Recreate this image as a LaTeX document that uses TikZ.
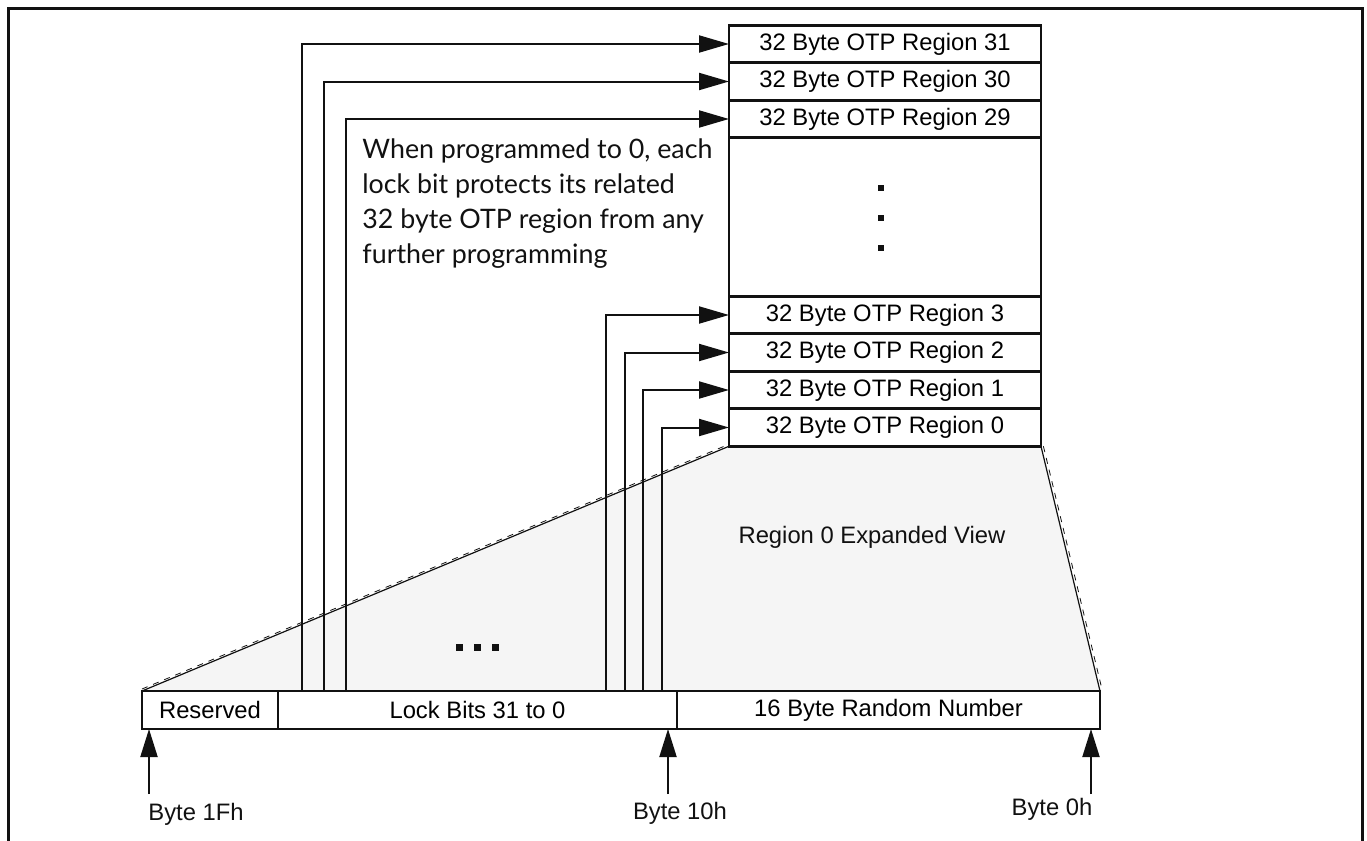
\documentclass[tikz,border=0pt]{standalone}
\usepackage{fontspec}
\setmainfont{Liberation Sans}
\newfontfamily\notefont{Lato}
\usepackage{tikz}
\usetikzlibrary{arrows.meta,positioning,backgrounds}
\definecolor{OtpFill}{HTML}{F5F5F5}
\definecolor{OtpInk}{HTML}{111111}
\tikzset{
  otpbox/.style={draw=OtpInk,line width=1.4pt,fill=white,minimum width=156pt,minimum height=18.75pt,inner sep=0pt,outer sep=0pt,font=\fontsize{11.9}{14}\selectfont},
  barbox/.style={draw=OtpInk,line width=1.4pt,fill=white,minimum height=19pt,inner sep=0pt,outer sep=0pt,font=\fontsize{11.9}{14}\selectfont},
  lockarrow/.style={-{Triangle[length=15pt,width=8.5pt]},line width=1pt,draw=OtpInk},
  byteptr/.style={-{Triangle[length=14pt,width=8.5pt]},line width=1pt,draw=OtpInk},
  bytelabel/.style={inner sep=0pt,text=OtpInk,font=\fontsize{11.9}{14}\selectfont},
  notetext/.style={inner sep=0pt,align=left,text=OtpInk,font={\notefont\fontsize{13.4}{17.5}\selectfont}},
  edgeline/.style={line width=0.6pt,draw=OtpInk}
}
\begin{document}
\begin{tikzpicture}[x=0.5pt,y=-0.5pt]
\useasboundingbox (0,0) rectangle (1367,841);
\draw[line width=1.5pt,OtpInk] (8,841) |- (1362,8) -- (1362,841);

% OTP regions
\node[otpbox] (r31) at (885,44) {32 Byte OTP Region 31};
\node[otpbox,below=0pt of r31] (r30) {32 Byte OTP Region 30};
\node[otpbox,below=0pt of r30] (r29) {32 Byte OTP Region 29};
\node[otpbox,below=0pt of r29,minimum height=79.25pt] (rgap) {};
\node[otpbox,below=0pt of rgap] (r3) {32 Byte OTP Region 3};
\node[otpbox,below=0pt of r3] (r2) {32 Byte OTP Region 2};
\node[otpbox,below=0pt of r2] (r1) {32 Byte OTP Region 1};
\node[otpbox,below=0pt of r1] (r0) {32 Byte OTP Region 0};
\foreach \y in {188,218,248} \fill[OtpInk] (878,\y-3) rectangle +(6,6);

% region 0 bytes
\node[barbox,minimum width=68pt] (res) at (210,710) {Reserved};
\node[barbox,minimum width=199.5pt,right=0pt of res] (lock) {Lock Bits 31 to 0};
\node[barbox,minimum width=211.5pt,right=0pt of lock] (rand) {16 Byte Random Number};

\begin{scope}[on background layer]
\fill[OtpFill] (res.north west) -- (r0.south west) -- (r0.south east) -- (rand.north east) -- cycle;
\end{scope}
\draw[edgeline] (res.north west) -- (r0.south west);
\draw[edgeline,dashed,line width=0.4pt] ([yshift=1pt]res.north west) -- ([yshift=1pt]r0.south west);
\draw[edgeline] (r0.south east) -- (rand.north east);
\draw[edgeline,dashed,line width=0.4pt] ([xshift=1.2pt]r0.south east) -- ([xshift=1.2pt]rand.north east);
\node[bytelabel] (expand) at (872,537) {Region 0 Expanded View};
\foreach \x in {459,477,495} \fill[OtpInk] (\x-3.5,643.5) rectangle +(7,7);

\node[notetext,anchor=north west] (note) at (362,138) {When programmed to 0, each\\lock bit protects its related\\32 byte OTP region from any\\further programming};

% lock bits to regions
\foreach \n/\x in {31/302,30/324,29/346,3/606,2/625,1/643,0/662}
  \draw[lockarrow] (\x,0 |- lock.north) |- (r\n);

% byte offsets
\coordinate (t1f) at (149,794);
\coordinate (t10) at (668,794);
\coordinate (t0) at (1091,794);
\draw[byteptr] (t1f) -- (t1f |- res.south);
\draw[byteptr] (t10) -- (t10 |- lock.south);
\draw[byteptr] (t0) -- (t0 |- rand.south);
\node[bytelabel,anchor=west] (b1f) at (148,814) {Byte 1Fh};
\node[bytelabel] (b10) at (680,813) {Byte 10h};
\node[bytelabel] (b0) at (1052,809) {Byte 0h};
\end{tikzpicture}
\end{document}
